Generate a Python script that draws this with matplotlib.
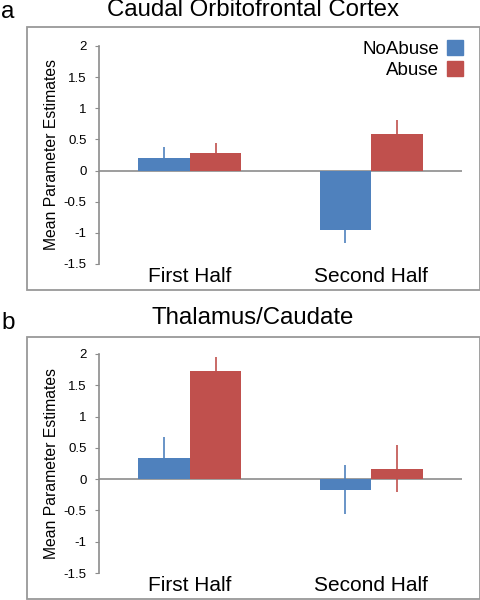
import matplotlib.pyplot as plt
from matplotlib.patches import Rectangle, Patch

plt.rcParams['font.family'] = ['Liberation Sans', 'DejaVu Sans']

# data
categories = ["First Half", "Second Half"]
groups = ["NoAbuse", "Abuse"]

ofc_noabuse = [0.20, -0.95]
ofc_abuse = [0.28, 0.58]
ofc_noabuse_err = [0.18, 0.21]
ofc_abuse_err = [0.16, 0.23]

thal_noabuse = [0.335, -0.17]
thal_abuse = [1.73, 0.17]
thal_noabuse_err = [0.34, 0.39]
thal_abuse_err = [0.23, 0.38]

titles = ["Caudal Orbitofrontal Cortex", "Thalamus/Caudate"]
letters = ["a", "b"]
yticks = [-1.5, -1, -0.5, 0, 0.5, 1, 1.5, 2]
ytick_labels = ["-1.5", "-1", "-0.5", "0", "0.5", "1", "1.5", "2"]

blue = "#4F81BD"
red = "#C0504D"
grey = "#8C8C8C"

W, H = 481, 600
fig = plt.figure(figsize=(W / 100, H / 100), dpi=100)


def px_axes(left, top, right, bottom):
    return fig.add_axes([left / W, 1 - bottom / H, (right - left) / W, (bottom - top) / H])


def frame(left, top, right, bottom):
    fig.patches.append(Rectangle((left / W, 1 - bottom / H), (right - left) / W, (bottom - top) / H,
                                 transform=fig.transFigure, fill=False, edgecolor="#999999", lw=1.3))


def panel(ax, noabuse, abuse, noabuse_err, abuse_err, legend=False):
    x = [0.5, 1.5]
    w = 0.285
    xb = [v - w / 2 for v in x]
    xr = [v + w / 2 for v in x]
    ax.bar(xb, noabuse, w, color=blue, zorder=2, label=groups[0])
    ax.bar(xr, abuse, w, color=red, zorder=2, label=groups[1])
    ax.errorbar(xb, noabuse, yerr=noabuse_err, fmt="none", ecolor=blue, elinewidth=1.2, capsize=0, zorder=3)
    ax.errorbar(xr, abuse, yerr=abuse_err, fmt="none", ecolor=red, elinewidth=1.2, capsize=0, zorder=3)
    ax.axhline(0, color=grey, lw=1.2, zorder=1)
    ax.set_xlim(0, 2)
    ax.set_ylim(-1.5, 2)
    ax.set_yticks(yticks)
    ax.set_yticklabels(ytick_labels, fontsize=9.5)
    ax.set_xticks(x)
    ax.set_xticklabels(categories, fontsize=15)
    ax.tick_params(axis="x", length=0, pad=2)
    ax.tick_params(axis="y", length=3, color=grey, pad=6)
    for s in ["top", "right", "bottom"]:
        ax.spines[s].set_visible(False)
    ax.spines["left"].set_color(grey)
    ax.spines["left"].set_linewidth(1.2)
    ax.set_ylabel("Mean Parameter Estimates", fontsize=11.3, labelpad=3)
    ax.patch.set_alpha(0)
    if legend:
        handles = [Patch(color=blue, label=groups[0]), Patch(color=red, label=groups[1])]
        ax.legend(handles=handles, loc="upper right", bbox_to_anchor=(1.05, 1.105), frameon=False,
                  markerfirst=False, fontsize=13.5, handlelength=0.85, handleheight=0.85,
                  handletextpad=0.45, labelspacing=0.15)


frame(27, 27, 480, 290)
ax1 = px_axes(99, 46, 462, 264)
panel(ax1, ofc_noabuse, ofc_abuse, ofc_noabuse_err, ofc_abuse_err, legend=True)
fig.text(253 / W, 1 - 10 / H, titles[0], fontsize=17.3, ha="center", va="center")
fig.text(1 / W, 1 - 12 / H, letters[0], fontsize=17.5, ha="left", va="center")

frame(27, 337, 480, 599)
ax2 = px_axes(99, 354, 462, 573)
panel(ax2, thal_noabuse, thal_abuse, thal_noabuse_err, thal_abuse_err)
fig.text(253 / W, 1 - 318 / H, titles[1], fontsize=17.3, ha="center", va="center")
fig.text(1 / W, 1 - 323 / H, letters[1], fontsize=17.5, ha="left", va="center")

fig.savefig("out.png", dpi=100)
